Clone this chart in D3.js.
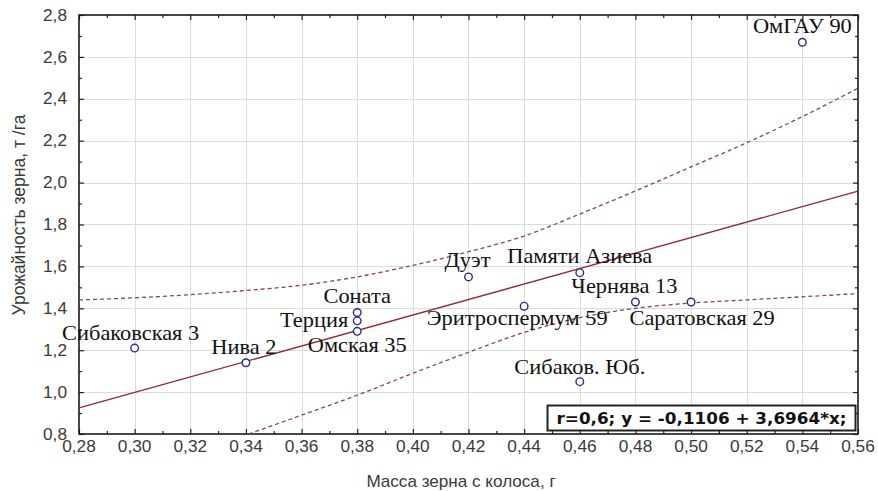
<!DOCTYPE html>
<html>
<head>
<meta charset="utf-8">
<script src="https://cdn.jsdelivr.net/npm/d3@7"></script>
<style>
  body { margin: 0; background: #fff; }
  svg { display: block; }
</style>
</head>
<body>
<svg id="chart" width="878" height="491"></svg>
<script>
// Varieties and their measurements
const varieties = ["ОмГАУ 90", "Сибаковская 3", "Нива 2", "Соната", "Терция", "Омская 35",
                   "Дуэт", "Памяти Азиева", "Эритроспермум 59", "Чернява 13", "Саратовская 29", "Сибаков. Юб."];
const grainMass = [0.54, 0.30, 0.34, 0.38, 0.38, 0.38, 0.42, 0.46, 0.44, 0.48, 0.50, 0.46];
const grainYield = [2.67, 1.21, 1.14, 1.38, 1.34, 1.29, 1.55, 1.57, 1.41, 1.43, 1.43, 1.05];

// Regression coefficients (y = a + b*x)
const regIntercept = -0.1106;
const regSlope = 3.6964;
const regLabel = "r=0,6; y = -0,1106 + 3,6964*x;";

// Confidence band
const upperBandX = [0.28, 0.30, 0.32, 0.34, 0.36, 0.38, 0.40, 0.42, 0.44, 0.46, 0.48, 0.50, 0.52, 0.54, 0.56];
const upperBandY = [1.44, 1.45, 1.465, 1.485, 1.51, 1.55, 1.605, 1.67, 1.745, 1.85, 1.96, 2.075, 2.19, 2.315, 2.45];
const lowerBandX = [0.341, 0.36, 0.38, 0.40, 0.42, 0.44, 0.46, 0.48, 0.50, 0.52, 0.54, 0.56];
const lowerBandY = [0.80, 0.89, 0.985, 1.09, 1.19, 1.285, 1.355, 1.40, 1.425, 1.44, 1.455, 1.47];

// Axis ticks
const xTickValues = [0.28, 0.30, 0.32, 0.34, 0.36, 0.38, 0.40, 0.42, 0.44, 0.46, 0.48, 0.50, 0.52, 0.54, 0.56];
const yTickValues = [0.8, 1.0, 1.2, 1.4, 1.6, 1.8, 2.0, 2.2, 2.4, 2.6, 2.8];
const xTitle = "Масса зерна с колоса, г";
const yTitle = "Урожайность зерна, т /га";

const svg = d3.select("#chart");
const plotLeft = 79, plotRight = 858, plotTop = 15, plotBottom = 434;
const sansFont = "Liberation Sans, Arial, sans-serif";
const serifFont = "Liberation Serif, Times New Roman, serif";

const x = d3.scaleLinear().domain([0.28, 0.56]).range([plotLeft, plotRight]);
const y = d3.scaleLinear().domain([0.8, 2.8]).range([plotBottom, plotTop]);

const comma2 = v => d3.format(".2f")(v).replace(".", ",");
const comma1 = v => d3.format(".1f")(v).replace(".", ",");

// Grid
const grid = svg.append("g").attr("stroke", "#dcdcdc").attr("stroke-width", 1);
grid.selectAll("line.vx").data(xTickValues.slice(1, -1)).join("line")
  .attr("x1", d => Math.round(x(d)) + 0.5).attr("x2", d => Math.round(x(d)) + 0.5)
  .attr("y1", plotTop).attr("y2", plotBottom);
grid.selectAll("line.hy").data(yTickValues.slice(1, -1)).join("line")
  .attr("y1", d => Math.round(y(d)) + 0.5).attr("y2", d => Math.round(y(d)) + 0.5)
  .attr("x1", plotLeft).attr("x2", plotRight);

// Tick marks on all four sides, pointing inward, with minor ticks in between
const xMinor = d3.range(0, xTickValues.length - 1).map(i => (xTickValues[i] + xTickValues[i + 1]) / 2);
const yMinor = d3.range(0, yTickValues.length - 1).map(i => (yTickValues[i] + yTickValues[i + 1]) / 2);

function tickAxis(axisFn, scale, values, size, tx, ty) {
  const g = svg.append("g").attr("transform", `translate(${tx},${ty})`);
  g.call(axisFn(scale).tickValues(values).tickSizeInner(-size).tickSizeOuter(0).tickFormat(""));
  g.select(".domain").remove();
  g.selectAll(".tick line").attr("stroke", "#222").attr("stroke-width", 1.2);
  g.selectAll(".tick text").remove();
}
tickAxis(d3.axisBottom, x, xTickValues, 5, 0, plotBottom);
tickAxis(d3.axisBottom, x, xMinor, 3, 0, plotBottom);
tickAxis(d3.axisTop, x, xTickValues, 5, 0, plotTop);
tickAxis(d3.axisTop, x, xMinor, 3, 0, plotTop);
tickAxis(d3.axisLeft, y, yTickValues, 5, plotLeft, 0);
tickAxis(d3.axisLeft, y, yMinor, 3, plotLeft, 0);
tickAxis(d3.axisRight, y, yTickValues, 5, plotRight, 0);
tickAxis(d3.axisRight, y, yMinor, 3, plotRight, 0);

// Tick labels (slightly widened glyphs)
svg.append("g").selectAll("text").data(xTickValues).join("text")
  .attr("transform", d => `translate(${x(d)},${plotBottom + 18}) scale(1.08,1)`)
  .attr("text-anchor", "middle")
  .attr("font-family", sansFont).attr("font-size", 16).attr("fill", "#3a3a3a")
  .text(comma2);
svg.append("g").selectAll("text").data(yTickValues).join("text")
  .attr("transform", d => `translate(${plotLeft - 12},${y(d)}) scale(1.08,1)`)
  .attr("text-anchor", "end").attr("dy", "0.35em")
  .attr("font-family", sansFont).attr("font-size", 16).attr("fill", "#3a3a3a")
  .text(comma1);

// Frame
svg.append("rect")
  .attr("x", plotLeft).attr("y", plotTop)
  .attr("width", plotRight - plotLeft).attr("height", plotBottom - plotTop)
  .attr("fill", "none").attr("stroke", "#1a1a1a").attr("stroke-width", 1.6);

// Confidence band (dashed)
const bandLine = d3.line().x(d => x(d[0])).y(d => y(d[1])).curve(d3.curveMonotoneX);
[d3.zip(upperBandX, upperBandY), d3.zip(lowerBandX, lowerBandY)].forEach(band => {
  svg.append("path")
    .datum(band)
    .attr("d", bandLine)
    .attr("fill", "none").attr("stroke", "#8c4452").attr("stroke-width", 1.3)
    .attr("stroke-dasharray", "4,3");
});

// Regression line
const regX = x.domain();
svg.append("line")
  .attr("x1", x(regX[0])).attr("y1", y(regIntercept + regSlope * regX[0]))
  .attr("x2", x(regX[1])).attr("y2", y(regIntercept + regSlope * regX[1]))
  .attr("stroke", "#8e2a30").attr("stroke-width", 1.3);

// Points
const points = varieties.map((name, i) => ({ name, mass: grainMass[i], value: grainYield[i] }));
svg.append("g").selectAll("circle").data(points).join("circle")
  .attr("cx", d => x(d.mass)).attr("cy", d => y(d.value)).attr("r", 3.8)
  .attr("fill", "#fff").attr("stroke", "#2b2b86").attr("stroke-width", 1.4);

// Label placement relative to each point: [anchor, dx, dy]
const labelPlacement = {
  "ОмГАУ 90": ["middle", 0, -9],
  "Сибаковская 3": ["middle", -4, -8],
  "Нива 2": ["middle", -2, -9],
  "Соната": ["middle", 0, -9],
  "Терция": ["end", -9, 6],
  "Омская 35": ["middle", 0, 21],
  "Дуэт": ["middle", -1, -10],
  "Памяти Азиева": ["middle", 0, -10],
  "Эритроспермум 59": ["middle", -7, 19],
  "Чернява 13": ["middle", -11, -9],
  "Саратовская 29": ["middle", 11, 23],
  "Сибаков. Юб.": ["middle", 0, -8]
};
svg.append("g").selectAll("text").data(points).join("text")
  .attr("transform", d => `translate(${x(d.mass) + labelPlacement[d.name][1]},${y(d.value) + labelPlacement[d.name][2]}) scale(1.12,1)`)
  .attr("text-anchor", d => labelPlacement[d.name][0])
  .attr("font-family", serifFont)
  .attr("font-size", 20)
  .attr("fill", "#111")
  .text(d => d.name);

// Regression legend box
const box = svg.append("g");
box.append("rect")
  .attr("x", 547.5).attr("y", 405.5).attr("width", 308).attr("height", 25)
  .attr("fill", "#fff").attr("stroke", "#222").attr("stroke-width", 2);
box.append("text")
  .attr("transform", "translate(701.5,424) scale(1.05,1)")
  .attr("text-anchor", "middle")
  .attr("font-family", "DejaVu Sans, Verdana, sans-serif")
  .attr("font-weight", "bold")
  .attr("font-size", 16)
  .attr("fill", "#111")
  .text(regLabel);

// Axis titles
svg.append("text")
  .attr("transform", "translate(461,487) scale(1.07,1)")
  .attr("text-anchor", "middle")
  .attr("font-family", sansFont)
  .attr("font-size", 16).attr("fill", "#3a3a3a")
  .text(xTitle);
svg.append("text")
  .attr("transform", "translate(25,215) rotate(-90)")
  .attr("text-anchor", "middle")
  .attr("font-family", sansFont)
  .attr("font-size", 17.5).attr("fill", "#3a3a3a")
  .text(yTitle);
</script>
</body>
</html>
